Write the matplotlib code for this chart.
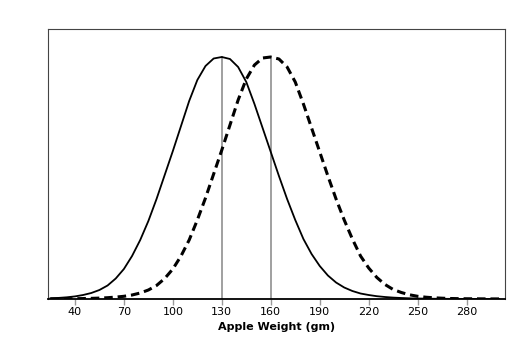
import numpy as np
import matplotlib
matplotlib.use("Agg")
import matplotlib.pyplot as plt

# apple weight grid (gm) and curve heights (arbitrary units)
weight = np.arange(25, 301, 5)

dist_a = [0.7, 1.1, 1.7, 2.6, 4, 6, 9, 13.5, 20.5, 30, 43, 59, 78, 100, 124,
          148, 173, 198, 219, 233, 240.5, 242, 240, 232, 217, 195, 171, 147,
          123, 100, 79, 60, 45, 33, 23.5, 16.5, 11.5, 8, 5.5, 4, 2.8, 2, 1.4,
          1, 0.7, 0.5, 0.35, 0.25, 0.2, 0.15, 0.1, 0.1, 0.1, 0.05, 0.05, 0.05]

dist_b = [0.1, 0.15, 0.2, 0.3, 0.45, 0.65, 0.9, 1.3, 1.9, 2.7, 4, 6, 9, 13.5,
          20.5, 30, 43, 59, 79, 101, 125, 149, 174, 199, 220, 234, 241, 242,
          240, 232, 217, 195, 171, 147, 123, 100, 79, 60, 43, 31, 21.5, 14.5,
          9.5, 6.5, 4.2, 2.7, 1.8, 1.2, 0.8, 0.5, 0.35, 0.25, 0.2, 0.15, 0.1,
          0.1]

means = [130, 160]
peak = 242
xticks = [40, 70, 100, 130, 160, 190, 220, 250, 280]

fig = plt.figure(figsize=(5.24, 3.44), dpi=100)
ax = fig.add_axes([0.0916, 0.1308, 0.8721, 0.7849])

for m in means:
    ax.plot([m, m], [0, peak], color="#a0a0a0", lw=1.4, zorder=1)

ax.plot(weight, dist_a, color="black", lw=1.3, zorder=3)
ax.plot(weight, dist_b, color="black", lw=2.2, dashes=(2.8, 1.6), zorder=2)

ax.set_xlim(23.5, 303.5)
ax.set_ylim(0, 270)
ax.set_yticks([])
ax.set_xticks(xticks)
ax.tick_params(axis="x", length=4, width=1, color="#9a9a9a", labelsize=8, pad=2)
for s in ("top", "right", "left"):
    ax.spines[s].set_color("#444444")
    ax.spines[s].set_linewidth(0.8)
ax.spines["bottom"].set_linewidth(1.3)
ax.set_xlabel("Apple Weight (gm)", fontsize=8, fontweight="bold", labelpad=3)

fig.savefig("out.png", dpi=100)
